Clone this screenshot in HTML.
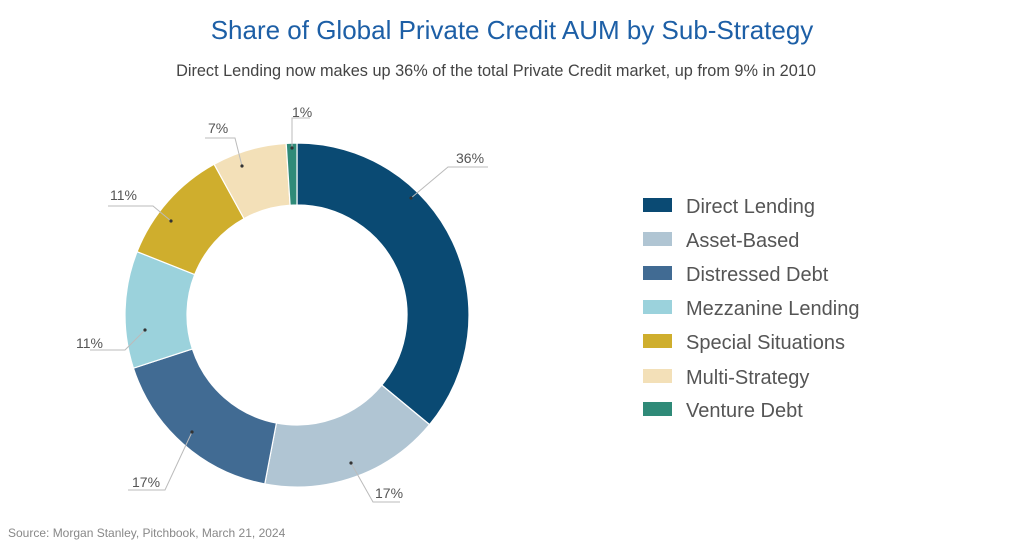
<!DOCTYPE html>
<html><head><meta charset="utf-8"><style>
body{margin:0;width:1024px;height:548px;background:#fff;overflow:hidden;font-family:"Liberation Sans",sans-serif;}
</style></head><body>
<svg width="1024" height="548" xmlns="http://www.w3.org/2000/svg" id="s">
<text x="512" y="39" text-anchor="middle" font-size="26" fill="#1d5fa6">Share of Global Private Credit AUM by Sub-Strategy</text>
<text x="496" y="76" text-anchor="middle" font-size="16.3" fill="#444">Direct Lending now makes up 36% of the total Private Credit market, up from 9% in 2010</text>
<g id="pie"></g>
<g stroke="#bbb" stroke-width="1" fill="none">
<polyline points="411,198 448,167 488,167"/>
<polyline points="351,463 373,502 400,502"/>
<polyline points="192,432 165,490 128,490"/>
<polyline points="145,330 125,350 90,350"/>
<polyline points="171,221 153,206 108,206"/>
<polyline points="242,166 235,138 205,138"/>
<polyline points="292,148 292,118 310,118"/>
</g>
<g fill="#333">
<circle cx="411" cy="198" r="1.6"/><circle cx="351" cy="463" r="1.6"/><circle cx="192" cy="432" r="1.6"/>
<circle cx="145" cy="330" r="1.6"/><circle cx="171" cy="221" r="1.6"/><circle cx="242" cy="166" r="1.6"/><circle cx="292" cy="148" r="1.6"/>
</g>
<g font-size="14" fill="#555">
<text x="456" y="163">36%</text>
<text x="375" y="498">17%</text>
<text x="132" y="487">17%</text>
<text x="76" y="348">11%</text>
<text x="110" y="200">11%</text>
<text x="208" y="133">7%</text>
<text x="292" y="117">1%</text>
</g>
<g font-size="20" fill="#555">
<rect x="643" y="198" width="29" height="14" fill="#0a4a73"/><text x="686" y="213">Direct Lending</text>
<rect x="643" y="232" width="29" height="14" fill="#b0c5d3"/><text x="686" y="247">Asset-Based</text>
<rect x="643" y="266" width="29" height="14" fill="#416b93"/><text x="686" y="281">Distressed Debt</text>
<rect x="643" y="300" width="29" height="14" fill="#9bd2dc"/><text x="686" y="315">Mezzanine Lending</text>
<rect x="643" y="334" width="29" height="14" fill="#cfae2d"/><text x="686" y="349">Special Situations</text>
<rect x="643" y="369" width="29" height="14" fill="#f3e0b8"/><text x="686" y="384">Multi-Strategy</text>
<rect x="643" y="402" width="29" height="14" fill="#2f8a78"/><text x="686" y="417">Venture Debt</text>
</g>
<text x="8" y="537" font-size="12" fill="#888">Source: Morgan Stanley, Pitchbook, March 21, 2024</text>
</svg>
<script>
var cx=297,cy=315,R=172,r=110;
var v=[36,17,17,11,11,7,1],c=["#0a4a73","#b0c5d3","#416b93","#9bd2dc","#cfae2d","#f3e0b8","#2f8a78"];
var g=document.getElementById("pie"),cum=0,h="";
function p(a,rr){a=a*3.6*Math.PI/180;return (cx+rr*Math.sin(a)).toFixed(2)+","+(cy-rr*Math.cos(a)).toFixed(2);}
for(var i=0;i<v.length;i++){var a0=cum,a1=cum+v[i];cum=a1;var l=v[i]>50?1:0;
h+='<path d="M'+p(a0,R)+' A'+R+','+R+' 0 '+l+' 1 '+p(a1,R)+' L'+p(a1,r)+' A'+r+','+r+' 0 '+l+' 0 '+p(a0,r)+' Z" fill="'+c[i]+'" stroke="#fff" stroke-width="1.2"/>';}
g.innerHTML=h;
</script>
</body></html>
